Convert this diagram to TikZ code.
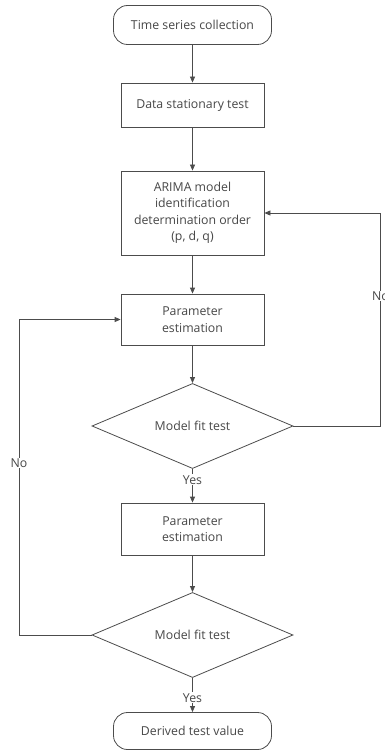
\documentclass[tikz,border=0pt]{standalone}
\usepackage{fontspec}
\setmainfont{Open Sans}
\usetikzlibrary{shapes.geometric,arrows.meta}
\begin{document}
\begin{tikzpicture}[x=1pt,y=-1pt,
  every node/.style={font=\fontsize{12.3}{16.5}\selectfont, text=black!72},
  line/.style={draw=black!70, line width=0.8pt},
  arr/.style={line, -{Triangle[length=6pt,width=5pt]}},
  term/.style={line, rounded corners=14pt, minimum width=158pt, minimum height=39pt, inner sep=0pt, fill=white},
  proc/.style={line, minimum width=143pt, inner sep=0pt, fill=white, align=center},
  dec/.style={line, diamond, minimum width=201pt, minimum height=80pt, inner sep=0pt, fill=white},
  lbl/.style={fill=white, inner sep=1pt}
]
\useasboundingbox (0,0) rectangle (385,754);
\node[term] (start) at (192.5,25) {Time series collection};
\node[proc, minimum height=44pt] (ds) at (192.5,105) {Data stationary test};
\node[proc, minimum height=84pt] (arima) at (192.5,213) {ARIMA model\\identification\\determination order\\(p, d, q)};
\node[proc, minimum height=51pt] (pe1) at (192.5,319.5) {Parameter\\estimation};
\node[dec] (d1) at (192.5,426) {Model fit test};
\node[proc, minimum height=52pt] (pe2) at (192.5,529) {Parameter\\estimation};
\node[dec] (d2) at (192.5,635) {Model fit test};
\node[term, minimum height=37pt] (end) at (192.5,731) {Derived test value};
\coordinate (r) at (380,0);
\coordinate (l) at (19,0);
\draw[arr] (start) -- (ds);
\draw[arr] (ds) -- (arima);
\draw[arr] (arima) -- (pe1);
\draw[arr] (pe1) -- (d1);
\draw[arr] (d1.south) -- node[lbl,pos=0.32] {Yes} (pe2.north);
\draw[arr] (pe2) -- (d2);
\draw[arr] (d2.south) -- node[lbl,pos=0.58] {Yes} (end.north);
\draw[arr] (d1.east) -| (r |- arima.east) -- (arima.east);
\draw[arr] (d2.west) -| (l |- pe1.west) -- (pe1.west);
\node[lbl, anchor=west] (no1) at (371,296) {No};
\node[lbl] (no2) at (19,463) {No};
\end{tikzpicture}
\end{document}
